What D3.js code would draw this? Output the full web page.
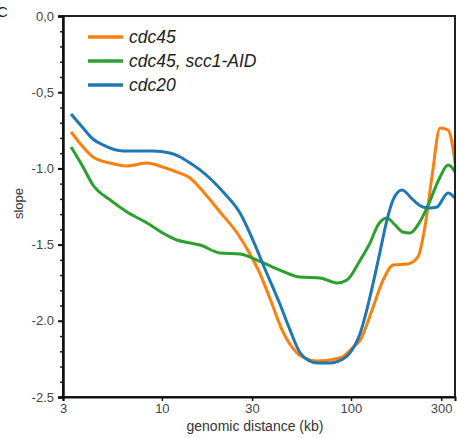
<!DOCTYPE html>
<html>
<head>
<meta charset="utf-8">
<script src="https://cdn.jsdelivr.net/npm/d3@7"></script>
<style>
  body { margin: 0; background: #fff; }
  svg { display: block; font-family: "Liberation Sans", Arial, sans-serif; }
</style>
</head>
<body>
<svg width="457" height="438"></svg>
<script>
  // genomic distance (kb), slope
  const cdc45 = [
    [3.31, -0.761], [3.83, -0.860], [4.32, -0.925], [5.32, -0.965], [6.54, -0.984],
    [8.35, -0.965], [10.1, -0.991], [12.0, -1.024], [14.1, -1.063], [15.9, -1.129],
    [20.3, -1.286], [25.0, -1.424], [29.2, -1.560], [33.0, -1.690], [38.0, -1.880],
    [43.2, -2.060], [51.8, -2.211], [60.0, -2.255], [66.1, -2.264], [87.5, -2.244],
    [103, -2.172], [112, -2.126], [131, -1.909], [148, -1.732], [167, -1.634],
    [200, -1.627], [226, -1.581], [246, -1.385], [268, -1.056], [296, -0.735],
    [326, -0.748], [364, -1.056]
  ];
  const cdc45Scc1 = [
    [3.31, -0.860], [3.83, -0.991], [4.32, -1.109], [5.32, -1.207], [6.54, -1.286],
    [8.35, -1.358], [10.1, -1.424], [12.0, -1.470], [14.1, -1.490], [15.9, -1.503],
    [20.3, -1.555], [25.9, -1.562], [33.0, -1.610], [42.1, -1.667], [53.8, -1.713],
    [68.6, -1.719], [84.4, -1.752], [95.3, -1.732], [112, -1.601], [126, -1.490],
    [139, -1.371], [155, -1.325], [171, -1.371], [188, -1.417], [205, -1.424],
    [226, -1.371], [252, -1.260], [296, -1.056], [326, -0.978], [364, -1.043]
  ];
  const cdc20 = [
    [3.31, -0.643], [3.83, -0.735], [4.32, -0.807], [4.88, -0.846], [6.23, -0.886],
    [8.98, -0.886], [11.0, -0.899], [12.5, -0.925], [14.1, -0.965], [15.9, -1.010],
    [21.1, -1.155], [25.9, -1.293], [30.3, -1.470], [35.1, -1.660], [42.1, -1.890],
    [47.6, -2.060], [53.8, -2.210], [60.0, -2.262], [66.1, -2.277], [77.5, -2.277],
    [86.0, -2.265], [98.8, -2.211], [112, -2.080], [126, -1.844], [142, -1.555],
    [155, -1.339], [167, -1.207], [186, -1.142], [213, -1.207], [240, -1.253],
    [262, -1.260], [285, -1.253], [326, -1.161], [355, -1.194]
  ];

  const seriesNames = ["cdc45", "cdc45, scc1-AID", "cdc20"];
  const seriesData = [cdc45, cdc45Scc1, cdc20];
  const seriesColors = ["#ff7f0e", "#2ca02c", "#1f77b4"];

  const xTicks = [3, 10, 30, 100, 300];
  const yTicks = [0, -0.5, -1.0, -1.5, -2.0, -2.5];
  const yTickLabels = ["0,0", "-0,5", "-1.0", "-1.5", "-2.0", "-2.5"];
  const yMinorTicks = d3.range(0, 26).map((i) => -i / 10);

  const svg = d3.select("svg");
  const margin = { top: 16, right: 2, bottom: 41, left: 63 };
  const width = +svg.attr("width");
  const height = +svg.attr("height");
  const innerWidth = width - margin.left - margin.right;
  const innerHeight = height - margin.top - margin.bottom;

  const xScale = d3.scaleLog().domain([3, 355]).range([0, innerWidth]);
  const yScale = d3.scaleLinear().domain([-2.5, 0]).range([innerHeight, 0]);

  const g = svg.append("g")
    .attr("transform", `translate(${margin.left},${margin.top})`);

  g.append("clipPath").attr("id", "plot-clip")
    .append("rect")
    .attr("width", innerWidth)
    .attr("height", innerHeight);

  // lines
  const line = d3.line()
    .x((d) => xScale(d[0]))
    .y((d) => yScale(d[1]))
    .curve(d3.curveMonotoneX);

  g.append("g").attr("clip-path", "url(#plot-clip)")
    .selectAll("path")
    .data(seriesData)
    .join("path")
    .attr("d", line)
    .attr("fill", "none")
    .attr("stroke", (d, i) => seriesColors[i])
    .attr("stroke-width", 3)
    .attr("stroke-linejoin", "round");

  // frame
  g.append("rect")
    .attr("width", innerWidth)
    .attr("height", innerHeight)
    .attr("fill", "none")
    .attr("stroke", "#222")
    .attr("stroke-width", 2);

  // y axis
  const yMinor = d3.axisLeft(yScale).tickValues(yMinorTicks).tickSize(3).tickFormat("");
  const yMinorG = g.append("g").call(yMinor);
  yMinorG.select(".domain").remove();
  yMinorG.selectAll("line").attr("stroke", "#222").attr("stroke-width", 1.5);

  const yAxis = d3.axisLeft(yScale)
    .tickValues(yTicks)
    .tickSize(5)
    .tickPadding(4)
    .tickFormat((d, i) => yTickLabels[i]);
  const yAxisG = g.append("g").call(yAxis);
  yAxisG.select(".domain").attr("stroke", "#111").attr("stroke-width", 2.5);
  yAxisG.selectAll("line").attr("stroke", "#111").attr("stroke-width", 2);
  yAxisG.selectAll("text")
    .attr("font-size", 13)
    .attr("font-family", "Liberation Sans, Arial, sans-serif")
    .attr("fill", "#444");

  // x axis
  const xAxis = d3.axisBottom(xScale)
    .tickValues(xTicks)
    .tickSize(4)
    .tickPadding(3)
    .tickFormat(d3.format("d"));
  const xAxisG = g.append("g")
    .attr("transform", `translate(0,${innerHeight})`)
    .call(xAxis);
  xAxisG.select(".domain").attr("stroke", "#111").attr("stroke-width", 2);
  xAxisG.selectAll("line").attr("stroke", "#111").attr("stroke-width", 1.5);
  xAxisG.selectAll("text")
    .attr("font-size", 13)
    .attr("font-family", "Liberation Sans, Arial, sans-serif")
    .attr("fill", "#444");

  // axis titles
  g.append("text")
    .attr("x", (xScale(3) + xScale(355)) / 2 - 4)
    .attr("y", innerHeight + 34)
    .attr("text-anchor", "middle")
    .attr("font-size", 14)
    .attr("fill", "#333")
    .text("genomic distance (kb)");

  g.append("text")
    .attr("transform", `translate(-40,${innerHeight / 2 - 3}) rotate(-90)`)
    .attr("text-anchor", "middle")
    .attr("font-size", 13)
    .attr("fill", "#333")
    .text("slope");

  // panel letter
  svg.append("text")
    .attr("x", -3)
    .attr("y", 17)
    .attr("font-size", 15)
    .attr("fill", "#222")
    .text("C");

  // legend
  const legend = g.append("g").attr("transform", "translate(25,21)");
  const items = legend.selectAll("g")
    .data(seriesNames)
    .join("g")
    .attr("transform", (d, i) => `translate(0,${i * 24})`);
  items.append("line")
    .attr("x1", 0).attr("x2", 35)
    .attr("stroke", (d, i) => seriesColors[i])
    .attr("stroke-width", 3.5);
  items.append("text")
    .attr("x", 41)
    .attr("y", 6)
    .attr("font-size", 17.5)
    .attr("font-style", "italic")
    .attr("fill", "#222")
    .text((d) => d);
</script>
</body>
</html>
